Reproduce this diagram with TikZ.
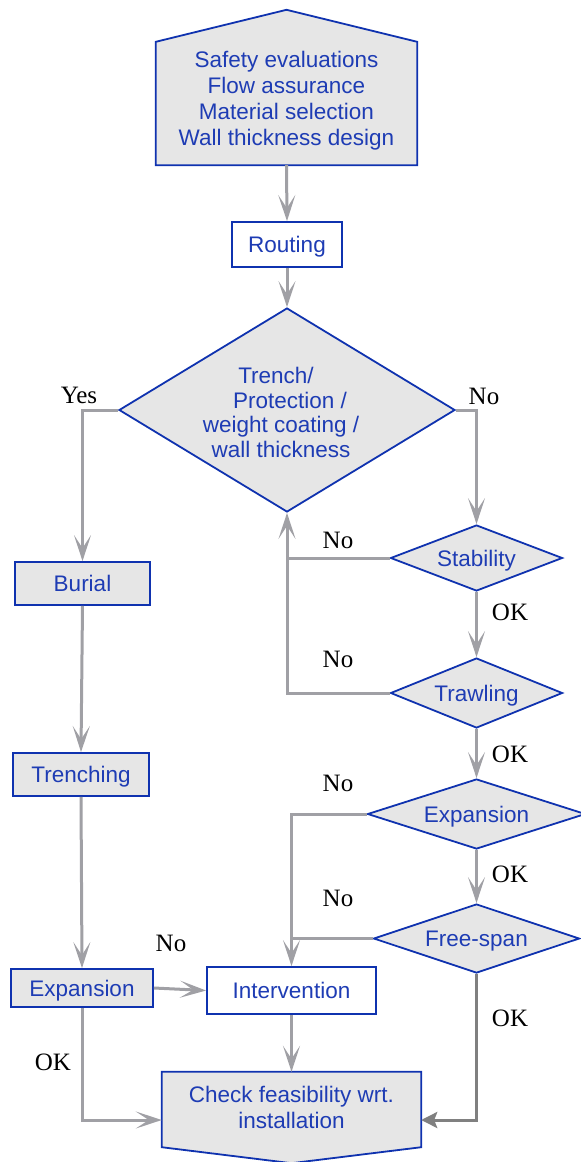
\documentclass[tikz,border=0pt]{standalone}
\usepackage{fontspec}
\setmainfont{Liberation Serif}
\newfontfamily\arialf{Liberation Sans}
\usetikzlibrary{shapes.geometric,arrows.meta,backgrounds,calc}
\definecolor{textblue}{RGB}{30,60,180}
\definecolor{nodeblue}{RGB}{15,50,175}
\definecolor{boxgray}{RGB}{230,230,230}
\definecolor{linegray}{RGB}{160,160,165}
\definecolor{darkline}{RGB}{128,128,128}
\begin{document}
\begin{tikzpicture}[x=1pt,y=-1pt,
  box/.style={rectangle,draw=nodeblue,line width=1.8pt,fill=boxgray,text=textblue,
    font=\arialf\fontsize{22.5}{26}\selectfont,inner sep=0pt,text height=18pt,text depth=1.9pt},
  wbox/.style={box,fill=white},
  ghost/.style={rectangle,inner sep=0pt},
  dia/.style={diamond,draw=nodeblue,line width=1.8pt,fill=boxgray,inner sep=0pt},
  txt/.style={text=textblue,font=\arialf\fontsize{22.5}{26}\selectfont,align=center,inner sep=0pt},
  stxt/.style={text=textblue,font=\arialf\fontsize{22.5}{26}\selectfont,inner sep=0pt,text height=18pt,text depth=1.9pt},
  conn/.style={draw=linegray,line width=3pt,-{Stealth[length=26pt,width=17pt,inset=13pt]}},
  dconn/.style={draw=darkline,line width=3pt,-{Stealth[length=16pt,width=16pt,inset=3pt]}},
  plain/.style={draw=linegray,line width=3pt},
  lbl/.style={font=\fontsize{25}{28}\selectfont,inner sep=0pt},
  pent/.style={draw=nodeblue,line width=1.8pt,fill=boxgray,line join=miter}
]
\useasboundingbox (0,0) rectangle (581,1162);

% top block
\node[ghost,minimum width=261pt,minimum height=123pt] (safety) at (286.5,103.5) {};
\node[txt] (safetytxt) at (286.5,101) {Safety evaluations\\Flow assurance\\Material selection\\Wall thickness design};

\node[wbox,minimum width=110pt,minimum height=45pt] (routing) at (287,244.5) {Routing};

% main decision
\node[dia,minimum width=336pt,minimum height=204pt] (d1) at (287,410) {};
\node[txt,font=\arialf\fontsize{22.5}{24.5}\selectfont] (d1txt) at (281,412.5)
  {Trench/\hspace*{10pt}\\\hspace*{18pt}Protection /\\weight coating /\\wall thickness};

% right column
\node[dia,minimum width=172pt,minimum height=66pt] (stab) at (476.5,558) {};
\node[stxt] (stabtxt) at (476.5,558) {Stability};
\node[dia,minimum width=172pt,minimum height=70pt] (trawl) at (476.5,693) {};
\node[stxt] (trawltxt) at (476.5,693) {Trawling};
\node[dia,minimum width=218pt,minimum height=70pt] (expn) at (476.5,814) {};
\node[stxt] (expntxt) at (476.5,814) {Expansion};
\node[dia,minimum width=206pt,minimum height=69pt] (free) at (476.5,938.5) {};
\node[stxt] (freetxt) at (476.5,938.5) {Free-span};

% left column
\node[box,minimum width=135pt,minimum height=43pt] (burial) at (82.5,583.5) {Burial};
\node[box,minimum width=136pt,minimum height=43pt] (trench) at (81,774.5) {Trenching};
\node[box,minimum width=142pt,minimum height=38pt] (expl) at (82,988) {Expansion};

\node[wbox,minimum width=169pt,minimum height=47pt] (interv) at (291.5,990.5) {Intervention};

% bottom block
\node[ghost,minimum width=259pt,minimum height=75pt] (check) at (291.5,1109.5) {};
\node[txt] (checktxt) at (291.5,1107) {Check feasibility wrt.\\installation};

\begin{scope}[on background layer]
  \draw[pent] (safety.south west) -- (safety.north west) -- ($(safety.north)+(0,-32)$)
    -- (safety.north east) -- (safety.south east) -- cycle;
  \draw[pent] (check.north west) -- (check.north east) -- (check.south east)
    -- ($(check.south)+(0,16)$) -- (check.south west) -- cycle;
\end{scope}

% connectors
\draw[conn] (safety.south) -- (routing.north);
\draw[conn] (routing.south) -- (d1.north);
\draw[conn] (d1.west) -| (burial.north);
\draw[conn] (d1.east) -| (stab.north);
\draw[conn] (stab.south) -- (trawl.north);
\draw[conn] (trawl.south) -- (expn.north);
\draw[conn] (expn.south) -- (free.north);
\draw[plain] (stab.west) -- (stab.west -| d1.south);
\draw[conn] (trawl.west) -| (d1.south);
\draw[plain] (free.west) -- (free.west -| interv.north);
\draw[conn] (expn.west) -| (interv.north);
\draw[conn] (burial.south) -- (trench.north);
\draw[conn] (trench.south) -- (expl.north);
\draw[conn] (expl.east) -- (interv.west);
\draw[conn] (interv.south) -- (check.north);
\draw[conn] (expl.south) |- ([yshift=-10.5pt]check.west);
\draw[dconn] (free.south) |- ([yshift=-10.5pt]check.east);

% labels
\node[lbl] (lyes) at (79,395) {Yes};
\node[lbl] (lno1) at (484,396) {No};
\node[lbl] (lno2) at (338,540) {No};
\node[lbl] (lok1) at (510,612) {OK};
\node[lbl] (lno3) at (338,659) {No};
\node[lbl] (lok2) at (510,754) {OK};
\node[lbl] (lno4) at (338,783) {No};
\node[lbl] (lok3) at (510,874) {OK};
\node[lbl] (lno5) at (338,898) {No};
\node[lbl] (lno6) at (171,943) {No};
\node[lbl] (lok4) at (53,1062) {OK};
\node[lbl] (lok5) at (510,1018) {OK};
\end{tikzpicture}
\end{document}
